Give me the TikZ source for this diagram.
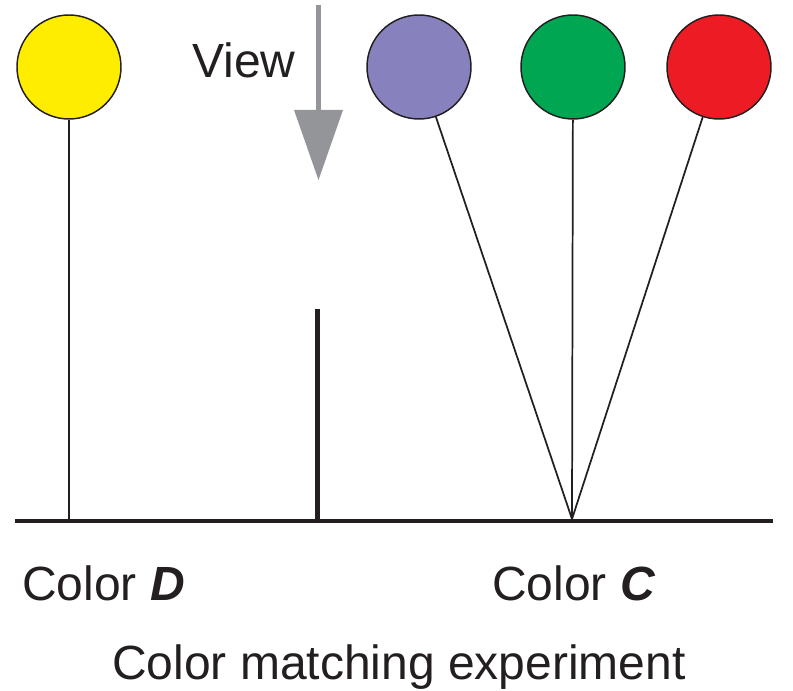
\documentclass[tikz,border=0pt]{standalone}
\usepackage{fontspec}
\setmainfont{Liberation Sans}
\definecolor{cyellow}{RGB}{255,237,0}
\definecolor{cpurple}{RGB}{135,130,190}
\definecolor{cgreen}{RGB}{0,166,81}
\definecolor{cred}{RGB}{237,28,36}
\definecolor{cgray}{RGB}{147,149,152}
\definecolor{cink}{RGB}{35,31,32}
\begin{document}
\begin{tikzpicture}[x=0.75pt,y=-0.75pt,
  ball/.style={circle,draw=cink,line width=1.1pt,inner sep=0pt,minimum size=78pt},
  stem/.style={draw=cink,line width=1.3pt},
  lbl/.style={inner sep=0pt,font=\fontsize{36pt}{40pt}\selectfont,text=cink}]
\path[use as bounding box] (0,0) rectangle (793,691);
% circles
\node[ball,fill=cyellow] (yel) at (69,67) {};
\node[ball,fill=cpurple] (pur) at (419,67) {};
\node[ball,fill=cgreen] (grn) at (573,67) {};
\node[ball,fill=cred] (red) at (719,67) {};
% ground
\coordinate (gl) at (15,521);
\coordinate (gr) at (773,521);
\coordinate (yb) at (69,521);
\coordinate (conv) at (572,519);
\coordinate (bartop) at (317.5,309);
\coordinate (barbot) at (317.5,521);
\draw[stem] (yel) -- (yb);
\draw[stem] (pur) -- (conv);
\draw[stem] (grn) -- (conv);
\draw[stem] (red) -- (conv);
\draw[draw=cink,line width=3.8pt] (bartop) -- (barbot);
\draw[draw=cink,line width=3pt] (gl) -- (gr);
% view arrow
\coordinate (atop) at (318.5,5);
\coordinate (abase) at (318.5,112);
\draw[cgray,line width=3.6pt] (atop) -- (abase);
\fill[cgray] (294,110) -- (343,110) -- (318.5,180) -- cycle;
% labels
\node[lbl,anchor=base west] (view) at (192,78) {View};
\node[lbl,anchor=base west] (cd) at (22,600) {Color \textbf{\textit{D}}};
\node[lbl,anchor=base west] (cc) at (492,600) {Color \textbf{\textit{C}}};
\node[lbl,anchor=base] (title) at (399,679) {Color matching experiment};
\end{tikzpicture}
\end{document}
